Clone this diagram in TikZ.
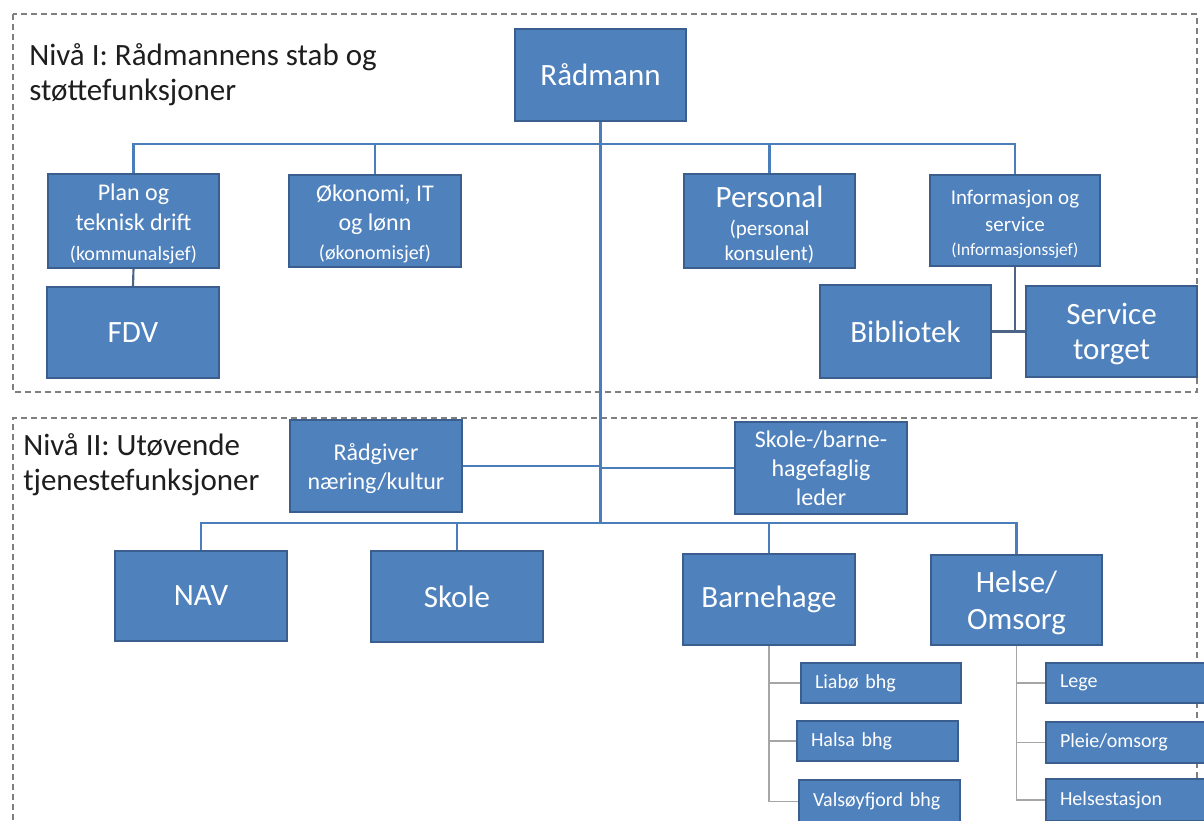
\documentclass[tikz,border=0pt]{standalone}
\usepackage{fontspec}
\setmainfont{Carlito}
\definecolor{boxblue}{HTML}{4F81BD}
\definecolor{boxedge}{HTML}{3A5F8F}
\definecolor{connblue}{HTML}{4A7EBB}
\definecolor{connslate}{HTML}{4D6585}
\definecolor{dashgray}{HTML}{7F7F7F}
\definecolor{subgray}{HTML}{A6A6A6}
\definecolor{titlecol}{HTML}{1E1E1E}
\newcommand\fsA{\fontsize{23.25pt}{27pt}\selectfont}
\newcommand\fsC{\fontsize{15pt}{18pt}\selectfont}
\newcommand\fsD{\fontsize{15.75pt}{19pt}\selectfont}
\newcommand\fsE{\fontsize{13pt}{16pt}\selectfont}
% fixed height of first line and depth of last line
\newcommand\tfix[1]{\rule{0pt}{#1pt}}
\newcommand\bfix{\rule[-6pt]{0pt}{6pt}}
% box: name, x1, y1, x2, y2, font, text
\newcommand\mybox[7]{%
  \pgfmathsetmacro\bw{(#4-#2)*0.75}%
  \pgfmathsetmacro\bh{(#5-#3)*0.75}%
  \node[box, font=#6, minimum width=\bw pt, minimum height=\bh pt] (#1) at ({(#2+#4)/2},{(#3+#5)/2}) {#7};}
% left-aligned sub box: name, x1, y1, x2, y2, text
\newcommand\mysub[6]{%
  \pgfmathsetmacro\tw{(#4-#2-28)*0.75}%
  \pgfmathsetmacro\bh{(#5-#3)*0.75}%
  \node[box, subbox, text width=\tw pt, minimum height=\bh pt] (#1) at ({(#2+#4)/2},{(#3+#5)/2}) {#6};}
\begin{document}
\begin{tikzpicture}[x=0.75pt, y=-0.75pt,
  box/.style={rectangle, fill=boxblue, draw=boxedge, line width=1pt, text=white, align=center, inner sep=0pt},
  subbox/.style={align=left, inner xsep=10.5pt, inner ysep=0pt, font=\fsC},
  conn/.style={draw=connblue, line width=1.8pt},
  conndark/.style={draw=connslate, line width=1.6pt},
  subconn/.style={draw=subgray, line width=1pt},
  dashbox/.style={draw=dashgray, line width=1.1pt, dash pattern=on 4.5pt off 3pt},
  title/.style={anchor=base west, inner sep=0pt, text=titlecol, font=\fontsize{23.25pt}{27pt}\selectfont}]
\useasboundingbox (0,0) rectangle (1204,821);
\fill[white] (0,0) rectangle (1204,821);

% level frames
\draw[dashbox] (13,14) rectangle (1197,392);
\draw[dashbox] (13,840) -- (13,418) -- (1197,418) -- (1197,840);

% titles
\node[title] (t1a) at (29,65) {Nivå I: Rådmannens stab og};
\node[title] (t1b) at (29,100) {støttefunksjoner};
\node[title] (t2a) at (23,455) {Nivå II: Utøvende};
\node[title] (t2b) at (23,490) {tjenestefunksjoner};

% connector anchors
\coordinate (h1) at (0,144);
\coordinate (h3) at (0,523);

% level I boxes
\mybox{rad}{515}{29}{686}{121}{\fsA}{Rådmann}
\mybox{plan}{48}{175}{219}{267}{\fontsize{18pt}{22.5pt}\selectfont}{\tfix{19.5}Plan og\\teknisk drift\\{\fsC(kommunalsjef)}\bfix}
\mybox{oko}{289}{175}{461}{267}{\fontsize{18pt}{21.75pt}\selectfont}{\tfix{19.5}Økonomi, IT\\og lønn\\{\fsC(økonomisjef)}\bfix}
\mybox{pers}{684}{175}{855}{267}{\fontsize{23.25pt}{21pt}\selectfont}{\tfix{24.75}Personal\\{\fsD(personal}\\[-2.25pt]{\fsD konsulent)}\bfix}
\mybox{info}{930}{175}{1100}{266}{\fontsize{15.75pt}{20.25pt}\selectfont}{\tfix{19.5}Informasjon og\\service\\[-2.25pt]{\fsE(Informasjonssjef)}\bfix}
\mybox{fdv}{47}{287}{219}{378}{\fsA}{FDV}
\mybox{bib}{820}{285}{991}{378}{\fsA}{Bibliotek}
\mybox{serv}{1026}{286}{1197}{377}{\fontsize{23.25pt}{26.25pt}\selectfont}{\tfix{21}Service\\torget\bfix}

% level II boxes
\mybox{rg}{290}{420}{462}{512}{\fontsize{18pt}{21.75pt}\selectfont}{\tfix{18.75}Rådgiver\\næring/kultur\bfix}
\mybox{sbl}{735}{422}{907}{514}{\fontsize{18pt}{21.75pt}\selectfont}{\tfix{18}Skole-/barne-\\hagefaglig\\leder\bfix}
\mybox{nav}{115}{551}{287}{641}{\fsA}{NAV}
\mybox{skole}{371}{551}{543}{642}{\fsA}{Skole}
\mybox{bhg}{683}{554}{855}{645}{\fsA}{Barnehage}
\mybox{helse}{931}{555}{1102}{645}{\fontsize{23.25pt}{27.75pt}\selectfont}{\tfix{21.75}Helse/\\Omsorg\bfix}

% sub boxes
\mysub{liabo}{801}{663}{961}{703}{Liabø bhg}
\mysub{halsa}{797}{721}{958}{761}{Halsa bhg}
\mysub{valsoy}{799}{780}{960}{823}{Valsøyfjord bhg}
\mysub{lege}{1046}{663}{1212}{703}{Lege}
\mysub{pleie}{1046}{722}{1212}{763}{Pleie/omsorg}
\mysub{helsest}{1046}{779}{1212}{821}{Helsestasjon}

% level I connectors
\draw[conn] (plan.north) -- (plan.north |- h1) -- (info.north |- h1) -- (info.north);
\draw[conn] (oko.north) -- (oko.north |- h1);
\draw[conn] (pers.north) -- (pers.north |- h1);
\draw[conn] (rad.south) -- (rad.south |- h3);
\draw[conndark] (plan.south) -- (fdv.north);
\draw[conndark] (info.south) -- (info.south |- bib.east);
\draw[conndark] (bib.east) -- (serv.west);

% level II connectors
\draw[conn] (rg.east) -- (rad.south |- rg.east);
\draw[conn] (rad.south |- sbl.west) -- (sbl.west);
\draw[conn] (nav.north) -- (nav.north |- h3) -- (helse.north |- h3) -- (helse.north);
\draw[conn] (skole.north) -- (skole.north |- h3);
\draw[conn] (bhg.north) -- (bhg.north |- h3);

% sub connectors
\draw[subconn] (bhg.south) -- (bhg.south |- valsoy.west) -- (valsoy.west);
\draw[subconn] (bhg.south |- liabo.west) -- (liabo.west);
\draw[subconn] (bhg.south |- halsa.west) -- (halsa.west);
\draw[subconn] (helse.south) -- (helse.south |- helsest.west) -- (helsest.west);
\draw[subconn] (helse.south |- lege.west) -- (lege.west);
\draw[subconn] (helse.south |- pleie.west) -- (pleie.west);
\end{tikzpicture}
\end{document}
